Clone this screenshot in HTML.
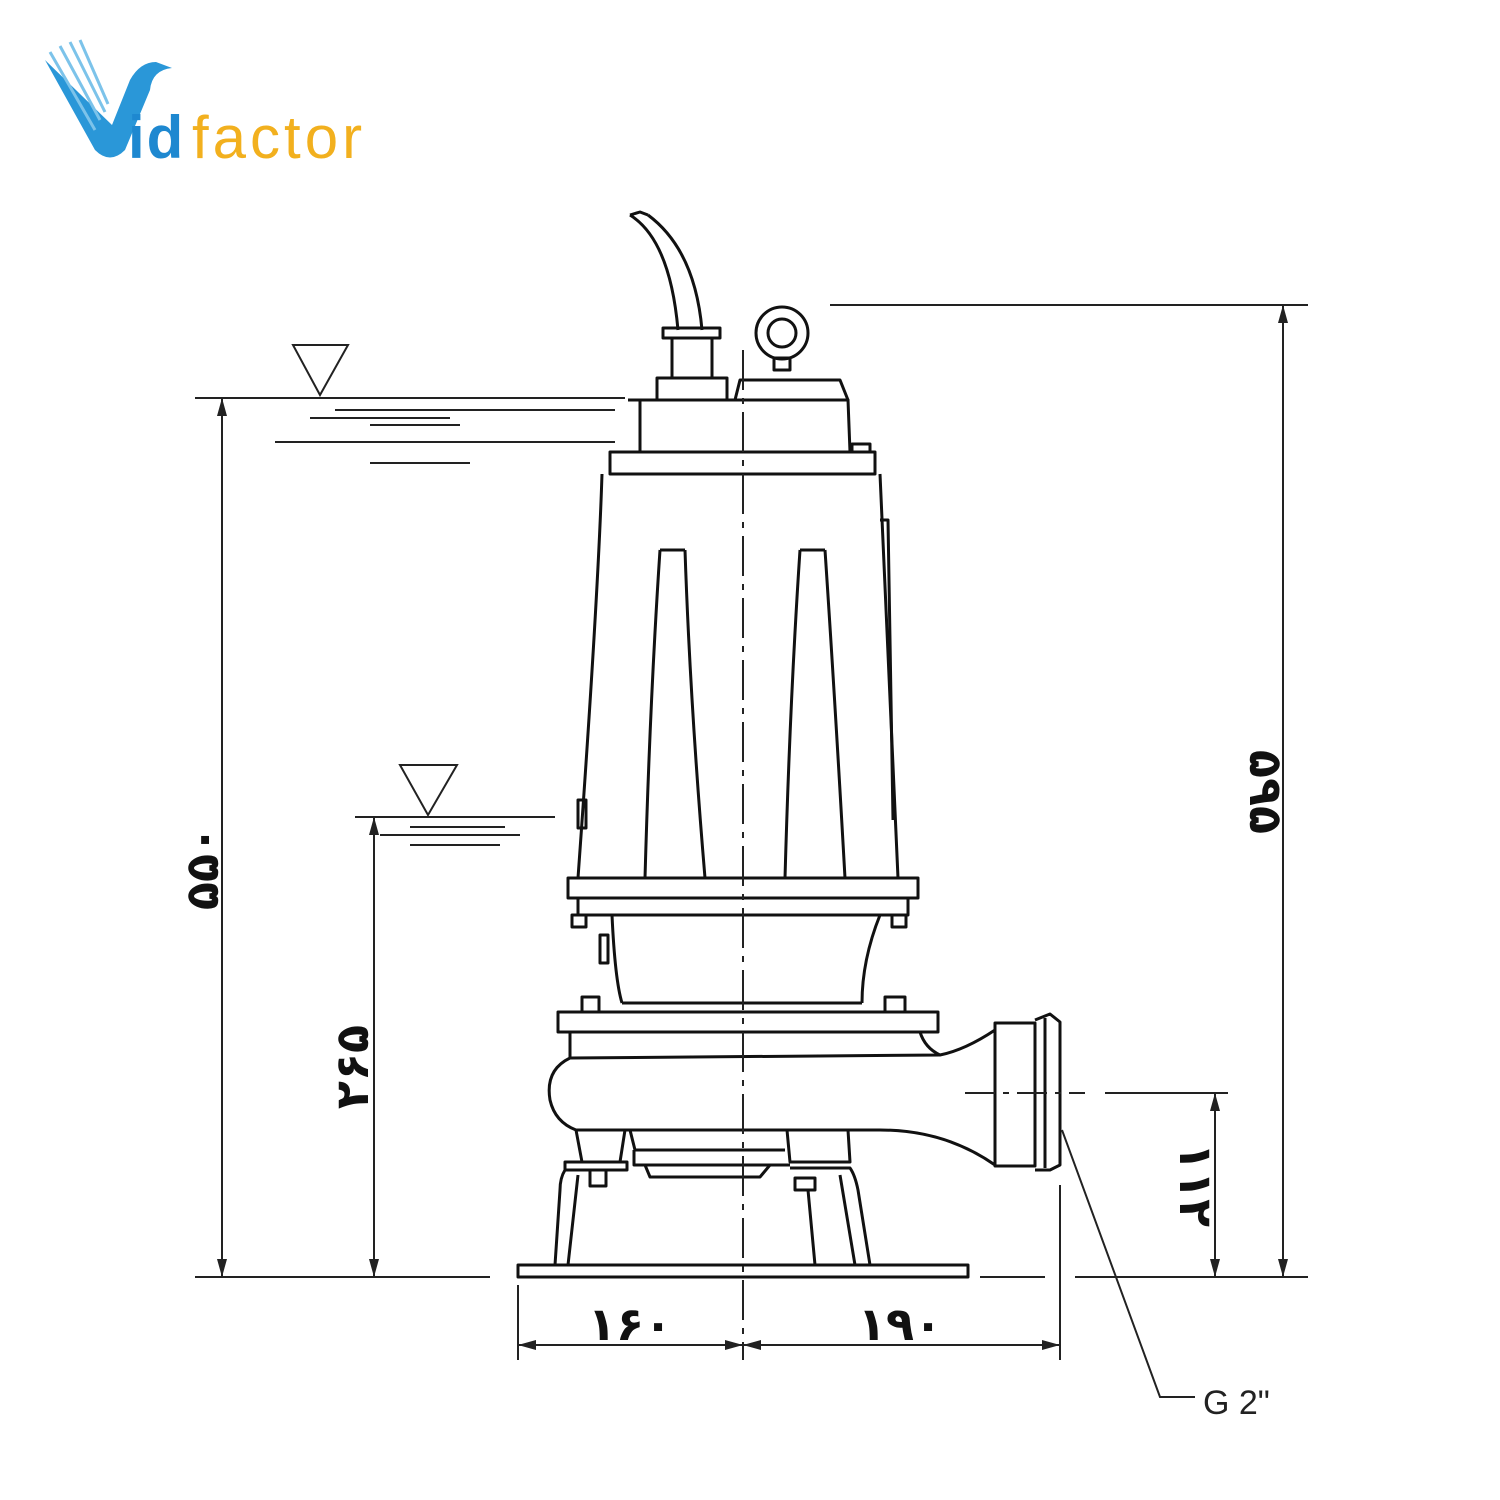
<!DOCTYPE html>
<html><head><meta charset="utf-8"><style>body{margin:0;background:#fff}svg{display:block}</style></head><body>
<svg width="1500" height="1500" viewBox="0 0 1500 1500" xmlns="http://www.w3.org/2000/svg" font-family="Liberation Sans, DejaVu Sans, sans-serif">
<!-- logo -->
<g>
<path d="M45 60 L95 150 Q110 165 125 150 L150 90 Q152 70 172 68 L156 62 Q140 62 130 80 L112 125 Z" fill="#2a97d8"/>
<path d="M50 52 L95 130 M60 46 L100 120 M70 42 L105 112 M80 40 L108 104" stroke="#7cc3ea" stroke-width="3"/>
<text x="128" y="158" font-size="60" fill="#1e88d0" font-weight="bold" letter-spacing="2">id</text>
<text x="192" y="158" font-size="60" fill="#f2b01e" letter-spacing="4">factor</text>
</g>
<g fill="none" stroke="#111" stroke-width="3" stroke-linejoin="round">
<!-- cable -->
<path d="M630 215 Q670 240 678 330 M648 215 Q695 250 702 330"/>
<path d="M630 215 L640 212 L648 215"/>
<!-- gland -->
<rect x="663" y="328" width="57" height="10"/>
<rect x="672" y="338" width="40" height="40"/>
<rect x="657" y="378" width="70" height="22"/>
<!-- eye -->
<circle cx="782" cy="333" r="26"/><circle cx="782" cy="333" r="14"/>
<rect x="774" y="358" width="16" height="12"/>
<path d="M735 400 L740 380 L840 380 L848 400"/>
<path d="M640 400 L848 400 L850 452 M640 400 L640 452"/>
<path d="M628 400 L640 400"/>
<rect x="610" y="452" width="265" height="22"/>
<rect x="852" y="444" width="18" height="8"/>
<!-- body -->
<path d="M602 474 Q598 600 578 878 M880 474 Q885 600 898 878"/>
<path d="M880 520 L888 520 L893 820"/>
<path d="M660 550 Q650 700 645 878 M685 550 Q690 700 705 878 M660 550 L685 550"/>
<path d="M800 550 Q790 700 785 878 M825 550 Q835 700 845 878 M800 550 L825 550"/>
<rect x="578" y="800" width="8" height="28"/>
<rect x="568" y="878" width="350" height="20"/>
<rect x="578" y="898" width="330" height="17"/>
<rect x="572" y="915" width="14" height="12"/><rect x="892" y="915" width="14" height="12"/>
<!-- neck -->
<path d="M612 915 Q615 980 622 1003 M880 915 Q862 960 862 1003 M622 1003 L862 1003"/>
<rect x="600" y="935" width="8" height="28"/>
<rect x="582" y="997" width="17" height="15"/><rect x="885" y="997" width="20" height="15"/>
<rect x="558" y="1012" width="380" height="20"/>
<!-- volute -->
<path d="M570 1032 L570 1058 Q545 1070 550 1100 Q555 1122 576 1130 L880 1130 Q945 1130 995 1165"/>
<path d="M570 1058 L940 1055 Q965 1050 995 1030"/>
<path d="M920 1032 Q925 1048 940 1055"/>
<rect x="995" y="1023" width="40" height="143"/>
<path d="M1035 1020 L1050 1014 L1060 1022 L1060 1165 L1050 1170 L1035 1170"/>
<path d="M1045 1018 L1045 1168"/>
<!-- feet -->
<path d="M576 1130 L582 1162 L620 1162 L625 1130"/>
<path d="M630 1130 L635 1150 L785 1150 M787 1130 L790 1162 L850 1162 L848 1130"/>
<path d="M634 1150 L634 1165 L790 1165"/>
<path d="M645 1165 L650 1177 L760 1177 L770 1165"/>
<rect x="565" y="1162" width="62" height="8"/>
<rect x="590" y="1170" width="16" height="16"/><rect x="795" y="1178" width="20" height="12"/>
<path d="M565 1170 Q560 1178 560 1190 L555 1265 M578 1175 L568 1265 M790 1168 L850 1168 Q855 1175 858 1190 L870 1265 M808 1190 L815 1265 M840 1175 L855 1265"/>
<rect x="518" y="1265" width="450" height="12"/>
</g>
<!-- centerline -->
<path d="M743 350 L743 1360" stroke="#222" stroke-width="2" stroke-dasharray="40 8 6 8"/>
<path d="M965 1093 L1085 1093" stroke="#222" stroke-width="2" stroke-dasharray="30 8 6 8"/>
<g fill="none" stroke="#222" stroke-width="2">
<!-- water -->
<path d="M293 345 L348 345 L320 395 Z M400 765 L457 765 L428 815 Z"/>
<path d="M195 398 L625 398 M335 410 L615 410 M310 418 L450 418 M455 410 L615 410 M370 425 L460 425 M275 442 L615 442 M370 463 L470 463"/>
<path d="M355 817 L555 817 M410 827 L505 827 M380 835 L520 835 M410 845 L500 845"/>
<!-- dims -->
<path d="M222 398 L222 1277 M374 817 L374 1277 M1283 305 L1283 1277 M1215 1093 L1215 1277"/>
<path d="M830 305 L1308 305 M1105 1093 L1228 1093"/>
<path d="M195 1277 L490 1277 M980 1277 L1045 1277 M1075 1277 L1308 1277"/>
<path d="M518 1285 L518 1360 M1060 1185 L1060 1360 M518 1345 L1060 1345"/>
<path d="M1062 1130 L1160 1397 L1195 1397"/>
</g>
<g fill="#222">
<path d="M222 398 l-5 18 h10z M222 1277 l-5 -18 h10z M374 817 l-5 18 h10z M374 1277 l-5 -18 h10z M1283 305 l-5 18 h10z M1283 1277 l-5 -18 h10z M1215 1093 l-5 18 h10z M1215 1277 l-5 -18 h10z"/>
<path d="M518 1345 l18 -5 v10z M743 1345 l-18 -5 v10z M743 1345 l18 -5 v10z M1060 1345 l-18 -5 v10z"/>
</g>
<g font-size="46" font-family="DejaVu Sans, sans-serif" font-weight="bold" fill="#111" text-anchor="middle">
<text transform="translate(218,868) rotate(-90)">۵۵۰</text>
<text transform="translate(368,1067) rotate(-90)">۲۶۵</text>
<text transform="translate(1250,792) rotate(90)">۵۹۵</text>
<text transform="translate(1180,1185) rotate(90)">۱۱۲</text>
<text x="630" y="1340">۱۶۰</text>
<text x="900" y="1340">۱۹۰</text>
</g>
<text x="1203" y="1414" font-size="34" fill="#222">G 2"</text>
</svg>
</body></html>
